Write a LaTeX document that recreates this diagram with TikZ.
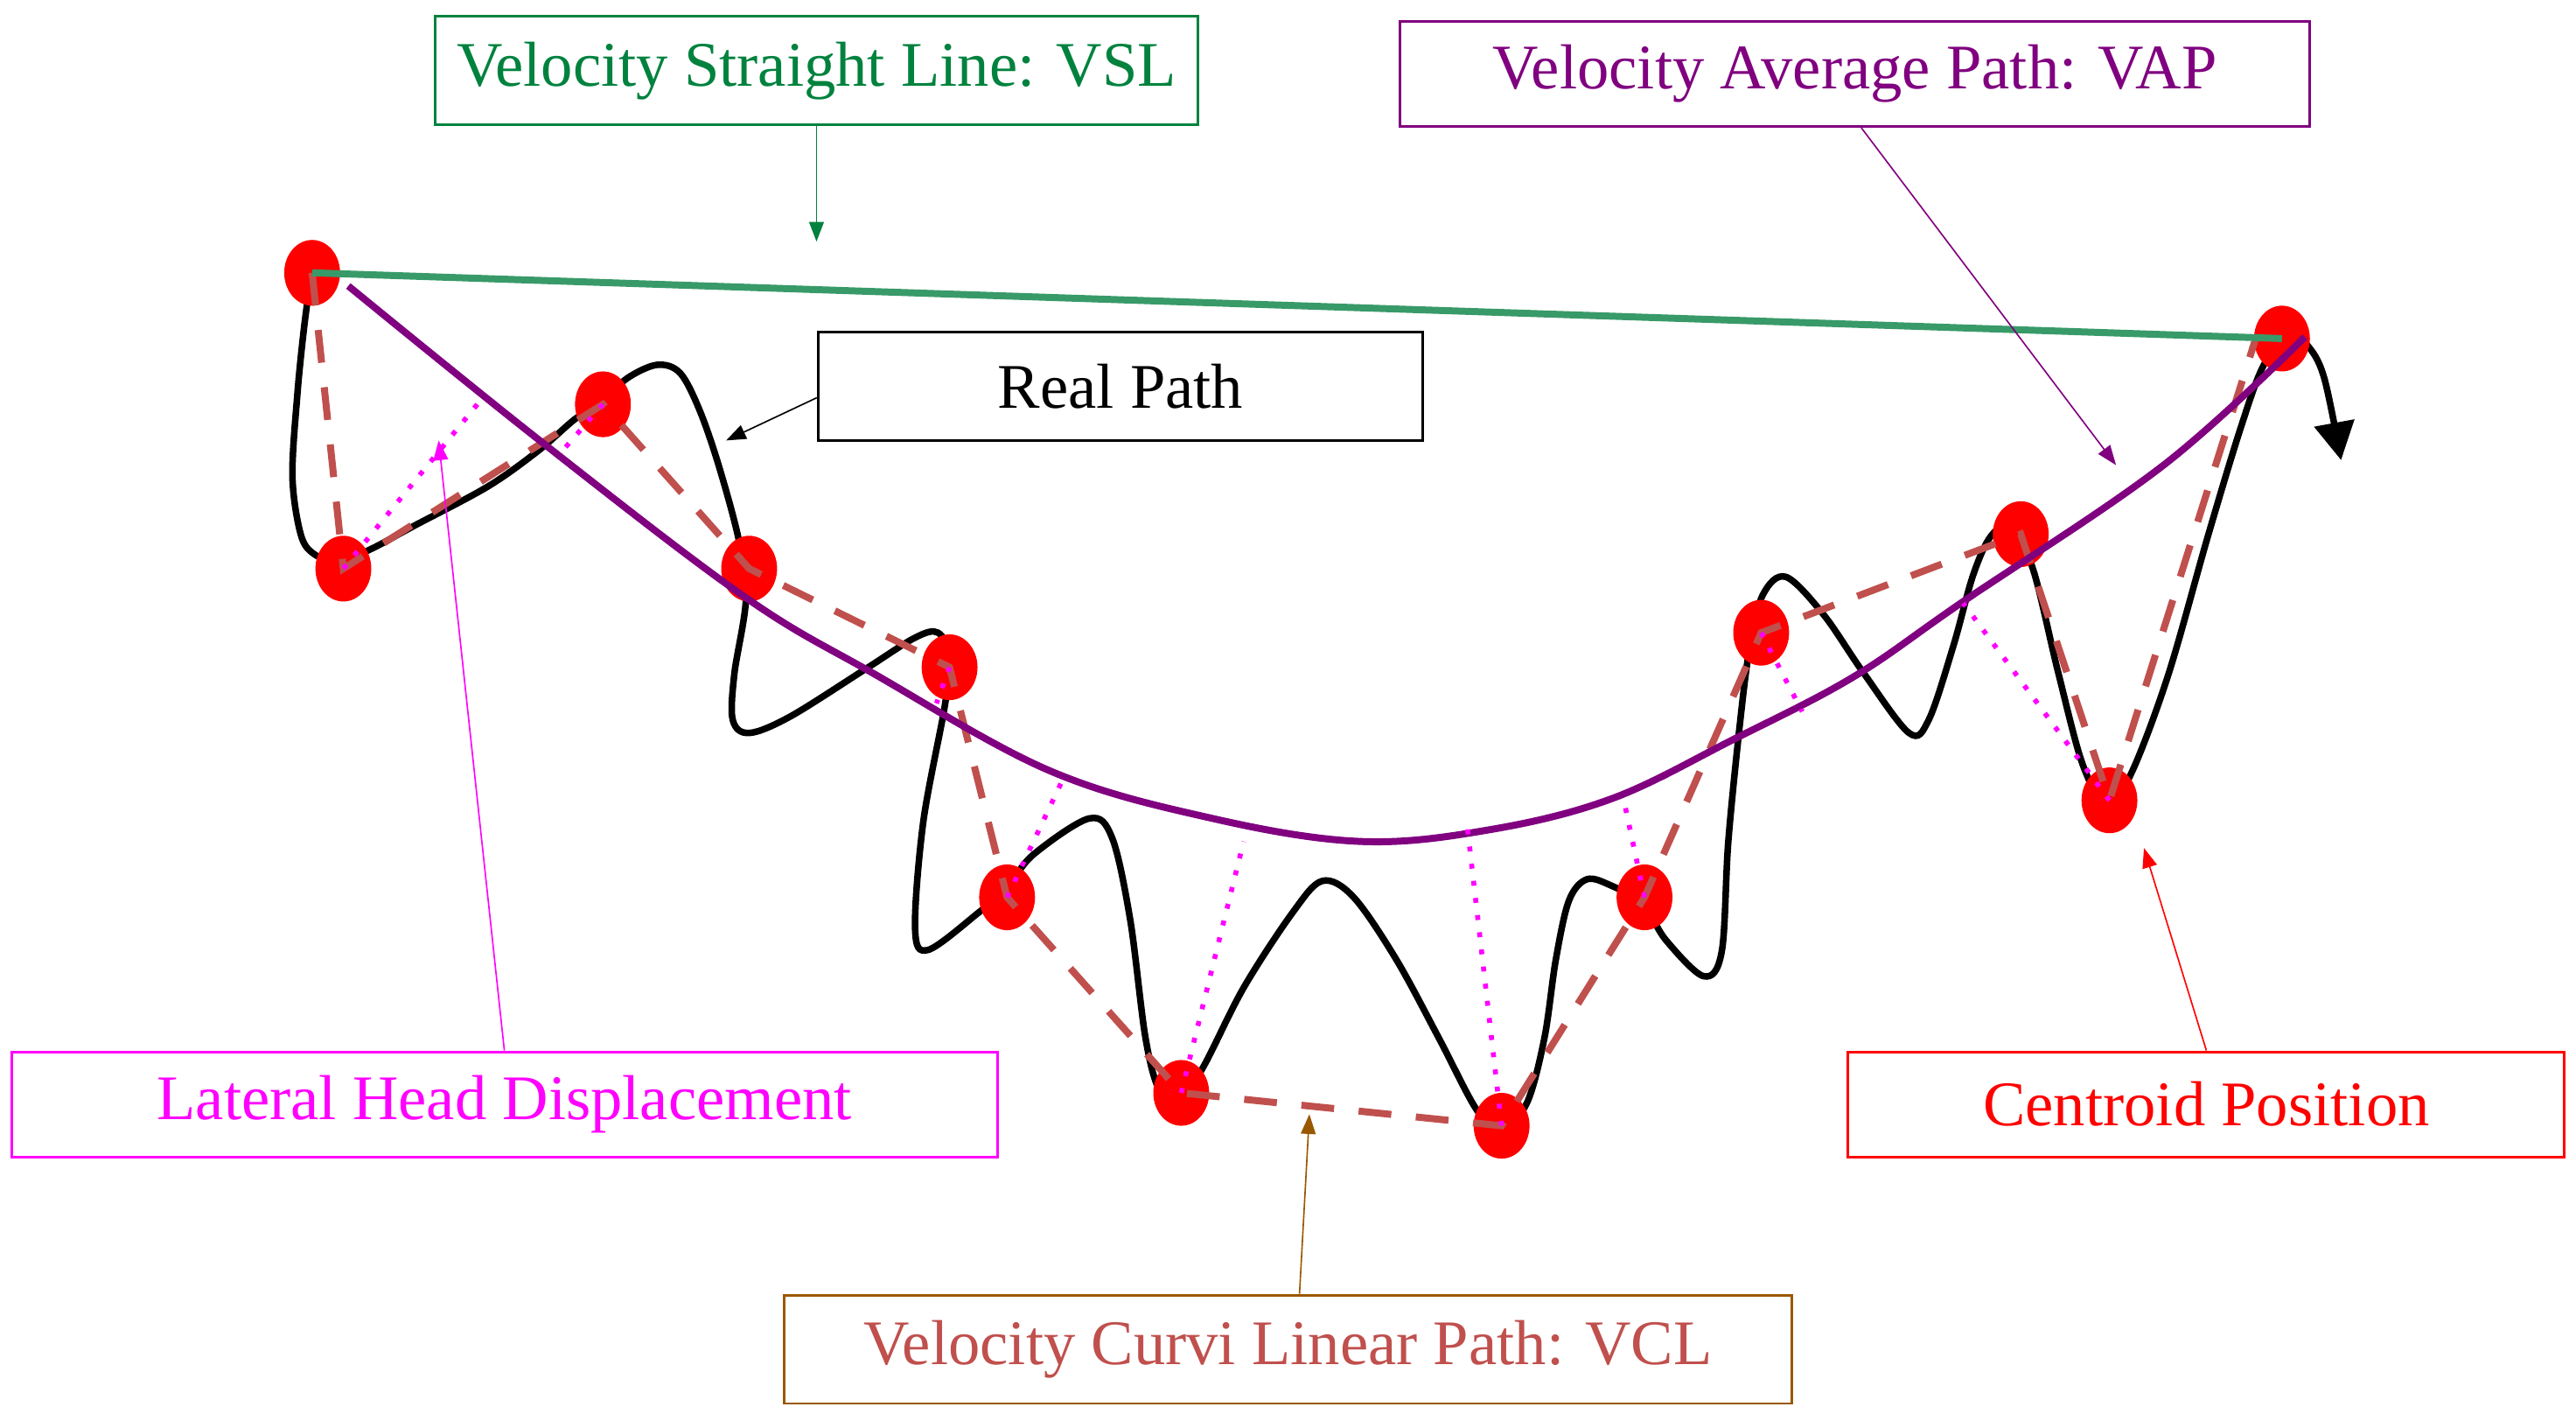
\documentclass[tikz,border=0pt]{standalone}
\usepackage{fontspec}
\setmainfont{Liberation Serif}
\usetikzlibrary{shapes.geometric,arrows.meta}

\definecolor{vslgreen}{RGB}{0,130,62}
\definecolor{vslline}{RGB}{56,154,104}
\definecolor{vappurple}{RGB}{128,0,128}
\definecolor{vclred}{RGB}{192,80,77}
\definecolor{vclbrown}{RGB}{153,88,0}
\definecolor{lhdpink}{RGB}{255,0,255}

\newcommand\centroid[3]{\node[dot](#1) at(#2,#3) {};}

\tikzset{
  labelbox/.style={draw, line width=0.9pt, inner sep=0pt, font=\fontsize{22}{26}\selectfont},
  dot/.style={ellipse, fill=red, minimum width=6.8mm, minimum height=8mm, inner sep=0pt},
  pointer/.style={-{Triangle[length=2.4mm,width=1.8mm]}, line width=0.5pt},
  vclline/.style={vclred, line width=0.85mm, dash pattern=on 4mm off 3mm},
  lhdline/.style={lhdpink, line width=0.6mm, dash pattern=on 0.6mm off 1.5mm},
}

\begin{document}
\begin{tikzpicture}[x=0.2mm, y=-0.2mm]
  \useasboundingbox (0,0) rectangle (1568,860);

  % real path
  \draw[line width=0.8mm, -{Triangle[length=4.6mm,width=4.8mm]}] plot[smooth, tension=0.55] coordinates {
    (189,170) (185,200) (181,240) (178,290) (183,325) (191,337) (206,342) (226,334)
    (252,320) (297,296) (328,274) (350,255) (367,244) (382,230) (400,222) (414,227)
    (426,250) (438,285) (450,330) (454,365) (447,410) (446,438) (456,446) (481,436)
    (527,407) (557,388) (571,385) (578,400) (575,430) (562,500) (557,565) (565,578)
    (596,555) (613,540) (629,520) (663,498) (677,510) (688,560) (697,630) (705,662)
    (716,672) (732,650) (757,601) (787,555) (805,536) (824,546) (850,584) (876,632)
    (898,674) (912,688) (929,672) (940,632) (947,584) (955,548) (966,535) (981,539)
    (1000,550) (1014,572) (1037,594) (1048,579) (1052,512) (1059,441) (1065,394)
    (1073,362) (1087,351) (1110,374) (1134,409) (1162,446) (1174,438) (1189,393)
    (1201,350) (1212,326) (1225,320) (1238,348) (1253,410) (1268,466) (1283,490)
    (1298,469) (1320,410) (1344,326) (1364,260) (1378,222) (1394,204) (1406,212)
    (1415,231) (1425,280)};

  % centroids
  \centroid{c1}{190}{166}
  \centroid{c2}{209}{346}
  \centroid{c3}{367}{246}
  \centroid{c4}{456}{346}
  \centroid{c5}{578}{406}
  \centroid{c6}{613}{546}
  \centroid{c7}{719}{665}
  \centroid{c8}{914}{685}
  \centroid{c9}{1001}{546}
  \centroid{c10}{1072}{385}
  \centroid{c11}{1230}{325}
  \centroid{c12}{1284}{487}
  \centroid{c13}{1389}{206}

  % VCL
  \draw[vclline] (c1.center) \foreach \i in {2,...,12}{ -- (c\i.center)} -- ([xshift=-3.2mm]c13.center);

  % VSL
  \draw[vslline, line width=0.85mm] (c1.center) -- (c13.center);

  % VAP
  \draw[vappurple, line width=0.85mm] plot[smooth, tension=0.6] coordinates {
    (212,174) (331,270) (453,363) (532,410) (639,469) (738,498) (828,512)
    (906,505) (981,486) (1055,450) (1128,412) (1195,366) (1317,283) (1403,205)};

  % lateral head displacement
  \coordinate (f2) at(293,243);
  \coordinate (f3) at(340,277);
  \coordinate (f5) at(570,428);
  \coordinate (f6) at(648,472);
  \coordinate (f7) at(757,512);
  \coordinate (f8) at(893,502);
  \coordinate (f9) at(988,485);
  \coordinate (f10) at(1097,433);
  \coordinate (f12) at(1195,367);
  \foreach \i in {2,3,5,6,7,8,9,10,12}
    \draw[lhdline] (c\i.center) -- (f\i);

  % labels
  \node[labelbox, vslgreen, minimum width=92.8mm, minimum height=13.2mm] (vsl) at(497,43) {Velocity Straight Line: VSL};
  \node[labelbox, vappurple, minimum width=110.8mm, minimum height=12.8mm] (vap) at(1129,45) {Velocity Average Path: VAP};
  \node[labelbox, black, minimum width=73.6mm, minimum height=13.2mm] (real) at(682,235) {Real Path};
  \node[labelbox, lhdpink, minimum width=120mm, minimum height=12.8mm] (lhd) at(307,672) {Lateral Head Displacement};
  \node[labelbox, red, minimum width=87.2mm, minimum height=12.8mm] (cent) at(1343,672) {Centroid Position};
  \node[labelbox, draw=vclbrown, text=vclred, minimum width=122.6mm, minimum height=13.2mm] (vcl) at(784,821) {Velocity Curvi Linear Path: VCL};

  % pointers
  \coordinate (vsltip) at(497,147);
  \coordinate (vaptip) at(1288,283);
  \coordinate (realtip) at(442,268);
  \coordinate (lhdtip) at(267,268);
  \coordinate (centtip) at(1305,516);
  \coordinate (vcltip) at(797,678);
  \draw[pointer, vslgreen] (vsl.south) -- (vsltip);
  \draw[pointer, vappurple] ([xshift=0.8mm]vap.south) -- (vaptip);
  \draw[pointer, black] ([yshift=-1.4mm]real.west) -- (realtip);
  \draw[pointer, lhdpink] (lhd.north) -- (lhdtip);
  \draw[pointer, red] (cent.north) -- (centtip);
  \draw[pointer, vclbrown] ([xshift=1.4mm]vcl.north) -- (vcltip);
\end{tikzpicture}
\end{document}
